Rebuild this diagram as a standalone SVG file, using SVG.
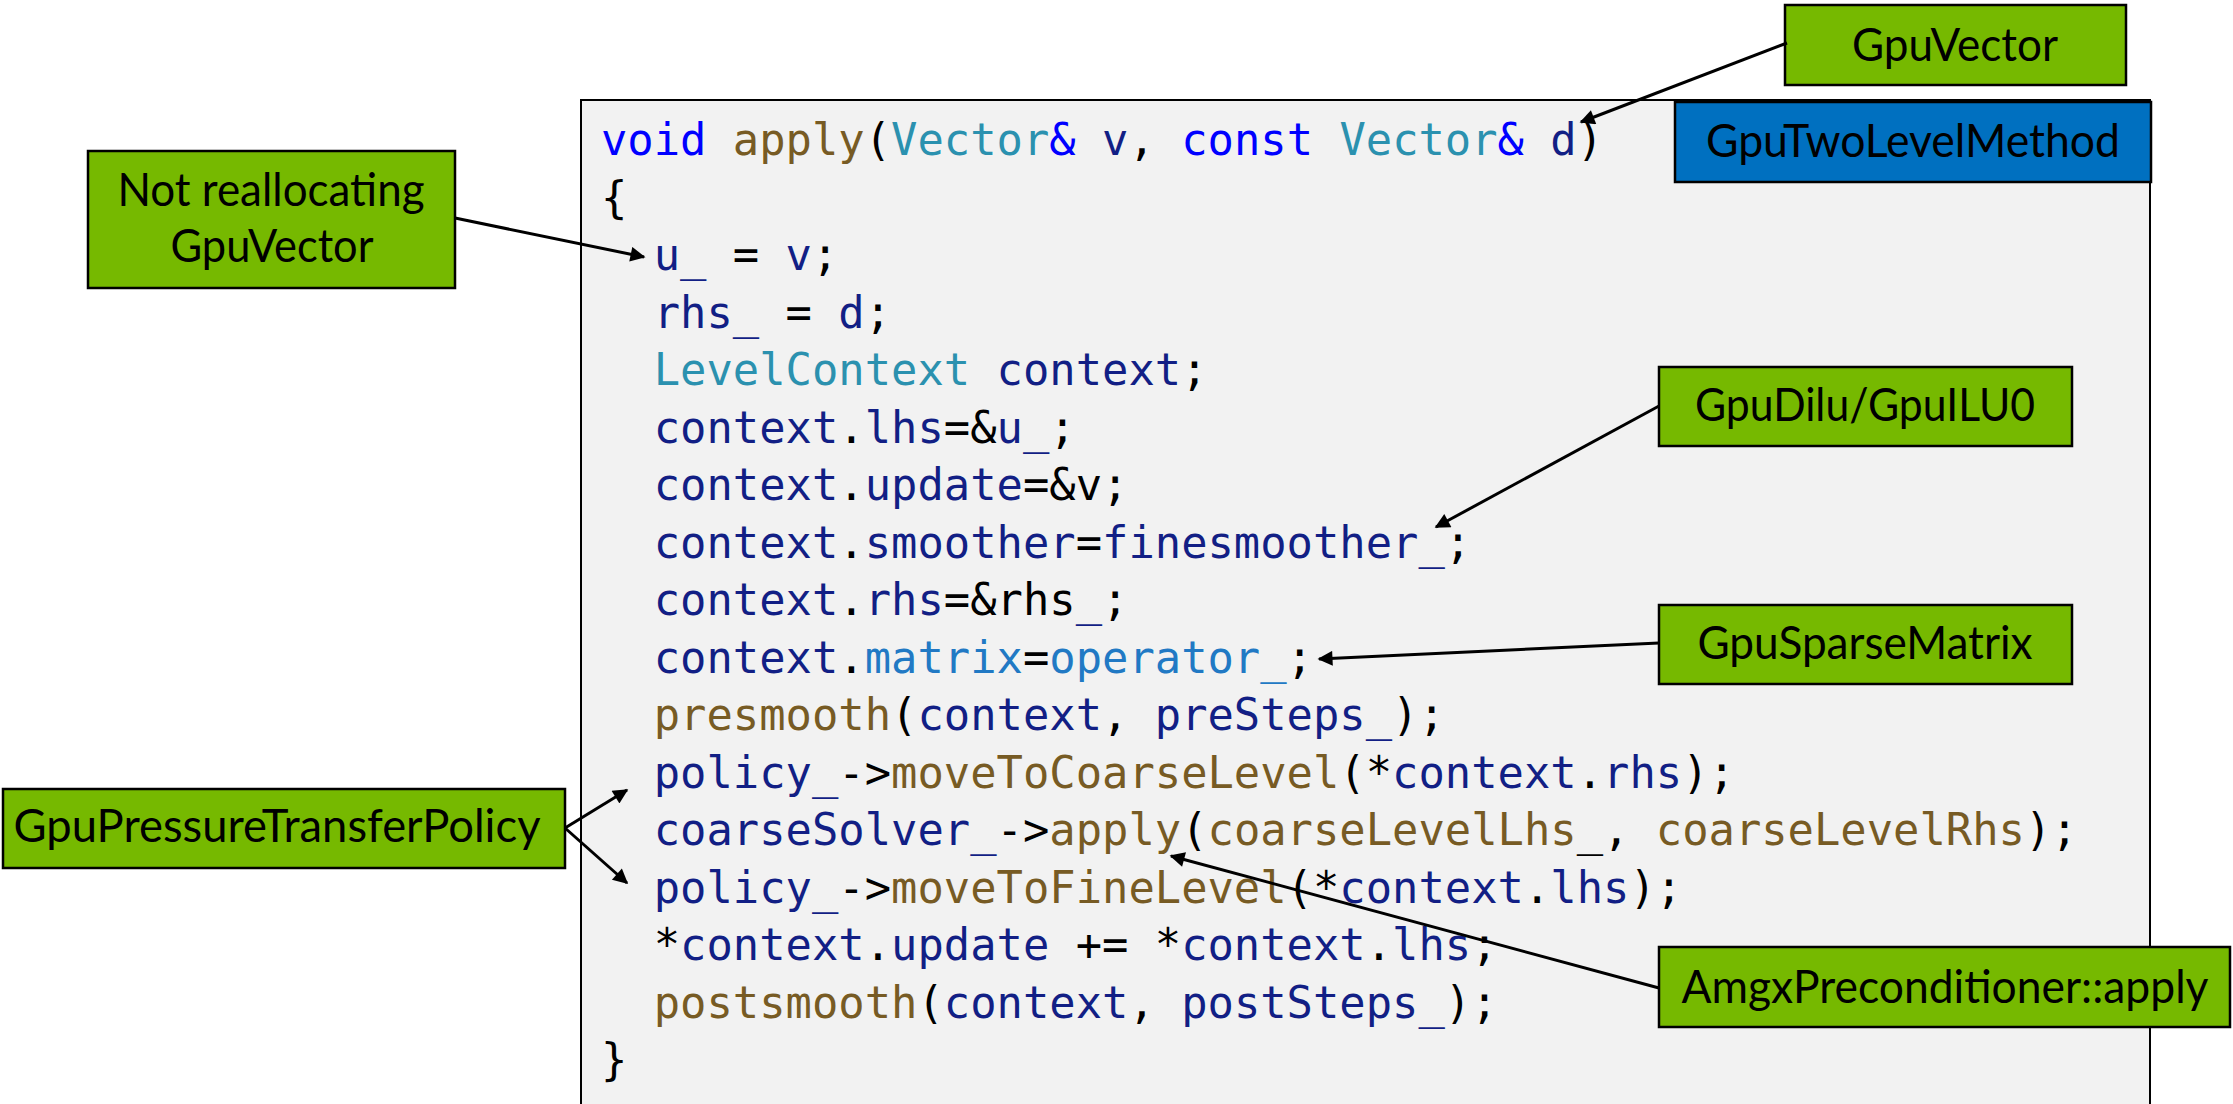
<svg xmlns="http://www.w3.org/2000/svg" width="2233" height="1104" viewBox="0 0 2233 1104">
  <style>
    .code { font-family: "DejaVu Sans Mono", "Liberation Mono", monospace; font-size: 43.8px; fill: #000000; white-space: pre; }
    .k { fill: #0000FF; }
    .t { fill: #2B91AF; }
    .f { fill: #775B24; }
    .v { fill: #121F85; }
    .m { fill: #2179C4; }
    .box { fill: #76B900; stroke: #000000; stroke-width: 2.5; }
    .cls { fill: #0070C0; stroke: #000000; stroke-width: 2.5; }
    .lbl { font-family: Lato, "Liberation Sans", sans-serif; font-size: 46px; fill: #000000; text-anchor: middle; }
    .conn { stroke: #000000; stroke-width: 3; fill: none; marker-end: url(#ah); }
  </style>
  <defs>
    <marker id="ah" viewBox="0 0 10 10" refX="9" refY="5" markerWidth="19" markerHeight="15" markerUnits="userSpaceOnUse" orient="auto">
      <path d="M0,0 L10,5 L0,10 z" fill="#000000"/>
    </marker>
  </defs>

  <rect width="2233" height="1104" fill="#FFFFFF"/>

  <!-- source listing panel -->
  <g id="code-panel">
    <rect x="581" y="100" width="1569" height="1012" fill="#F2F2F2" stroke="#000000" stroke-width="2"/>
    <g xml:space="preserve">
      <text class="code" x="601" y="155"><tspan class="k">void</tspan> <tspan class="f">apply</tspan>(<tspan class="t">Vector</tspan><tspan class="k">&amp;</tspan> <tspan class="v">v</tspan>, <tspan class="k">const</tspan> <tspan class="t">Vector</tspan><tspan class="k">&amp;</tspan> <tspan class="v">d</tspan>)</text>
      <text class="code" x="601" y="212.5">{</text>
      <text class="code" x="601" y="270">  <tspan class="v">u_</tspan> = <tspan class="v">v</tspan>;</text>
      <text class="code" x="601" y="327.5">  <tspan class="v">rhs_</tspan> = <tspan class="v">d</tspan>;</text>
      <text class="code" x="601" y="385">  <tspan class="t">LevelContext</tspan> <tspan class="v">context</tspan>;</text>
      <text class="code" x="601" y="442.5">  <tspan class="v">context</tspan>.<tspan class="v">lhs</tspan>=&amp;<tspan class="v">u_</tspan>;</text>
      <text class="code" x="601" y="500">  <tspan class="v">context</tspan>.<tspan class="v">update</tspan>=&amp;v;</text>
      <text class="code" x="601" y="557.5">  <tspan class="v">context</tspan>.<tspan class="v">smoother</tspan>=<tspan class="v">finesmoother_</tspan>;</text>
      <text class="code" x="601" y="615">  <tspan class="v">context</tspan>.<tspan class="v">rhs</tspan>=&amp;rhs<tspan class="v">_</tspan>;</text>
      <text class="code" x="601" y="672.5">  <tspan class="v">context</tspan>.<tspan class="m">matrix</tspan>=<tspan class="m">operator_</tspan>;</text>
      <text class="code" x="601" y="730">  <tspan class="f">presmooth</tspan>(<tspan class="v">context</tspan>, <tspan class="v">preSteps_</tspan>);</text>
      <text class="code" x="601" y="787.5">  <tspan class="v">policy_</tspan>-&gt;<tspan class="f">moveToCoarseLevel</tspan>(*<tspan class="v">context</tspan>.<tspan class="v">rhs</tspan>);</text>
      <text class="code" x="601" y="845">  <tspan class="v">coarseSolver_</tspan>-&gt;<tspan class="f">apply</tspan>(<tspan class="f">coarseLevelLhs</tspan>_, <tspan class="f">coarseLevelRhs</tspan>);</text>
      <text class="code" x="601" y="902.5">  <tspan class="v">policy_</tspan>-&gt;<tspan class="f">moveToFineLevel</tspan>(*<tspan class="v">context</tspan>.<tspan class="v">lhs</tspan>);</text>
      <text class="code" x="601" y="960">  *<tspan class="v">context</tspan>.<tspan class="v">update</tspan> += *<tspan class="v">context</tspan>.<tspan class="v">lhs</tspan>;</text>
      <text class="code" x="601" y="1017.5">  <tspan class="f">postsmooth</tspan>(<tspan class="v">context</tspan>, <tspan class="v">postSteps_</tspan>);</text>
      <text class="code" x="601" y="1075">}</text>
    </g>
  </g>

  <g id="gpu-two-level-method">
    <rect class="cls" x="1675" y="102" width="476" height="80"/>
    <text class="lbl" x="1913" y="157" textLength="414" lengthAdjust="spacingAndGlyphs">GpuTwoLevelMethod</text>
  </g>

  <g id="gpu-vector">
    <rect class="box" x="1785" y="5" width="341" height="80"/>
    <text class="lbl" x="1955" y="61" textLength="206" lengthAdjust="spacingAndGlyphs">GpuVector</text>
  </g>

  <g id="not-reallocating">
    <rect class="box" x="88" y="151" width="367" height="137"/>
    <text class="lbl" x="271" y="206" textLength="307" lengthAdjust="spacingAndGlyphs">Not reallocating</text>
    <text class="lbl" x="272" y="262" textLength="203" lengthAdjust="spacingAndGlyphs">GpuVector</text>
  </g>

  <g id="gpu-dilu-ilu0">
    <rect class="box" x="1659" y="367" width="413" height="79"/>
    <text class="lbl" x="1865" y="421" textLength="340" lengthAdjust="spacingAndGlyphs">GpuDilu/GpuILU0</text>
  </g>

  <g id="gpu-sparse-matrix">
    <rect class="box" x="1659" y="605" width="413" height="79"/>
    <text class="lbl" x="1865" y="659" textLength="335" lengthAdjust="spacingAndGlyphs">GpuSparseMatrix</text>
  </g>

  <g id="gpu-pressure-transfer-policy">
    <rect class="box" x="3" y="789" width="562" height="79"/>
    <text class="lbl" x="277" y="842" textLength="527" lengthAdjust="spacingAndGlyphs">GpuPressureTransferPolicy</text>
  </g>

  <g id="amgx-preconditioner-apply">
    <rect class="box" x="1659" y="947" width="571" height="80"/>
    <text class="lbl" x="1945" y="1003" textLength="527" lengthAdjust="spacingAndGlyphs">AmgxPreconditioner::apply</text>
  </g>

  <!-- connectors -->
  <g id="connectors">
    <line class="conn" x1="1787" y1="43" x2="1581" y2="122"/>
    <line class="conn" x1="455" y1="218" x2="644" y2="257"/>
    <line class="conn" x1="1659" y1="406" x2="1436" y2="527"/>
    <line class="conn" x1="1659" y1="643" x2="1319" y2="659"/>
    <line class="conn" x1="565" y1="828" x2="627" y2="790"/>
    <line class="conn" x1="565" y1="828" x2="627" y2="883"/>
    <line class="conn" x1="1659" y1="988" x2="1171" y2="856"/>
  </g>
</svg>
